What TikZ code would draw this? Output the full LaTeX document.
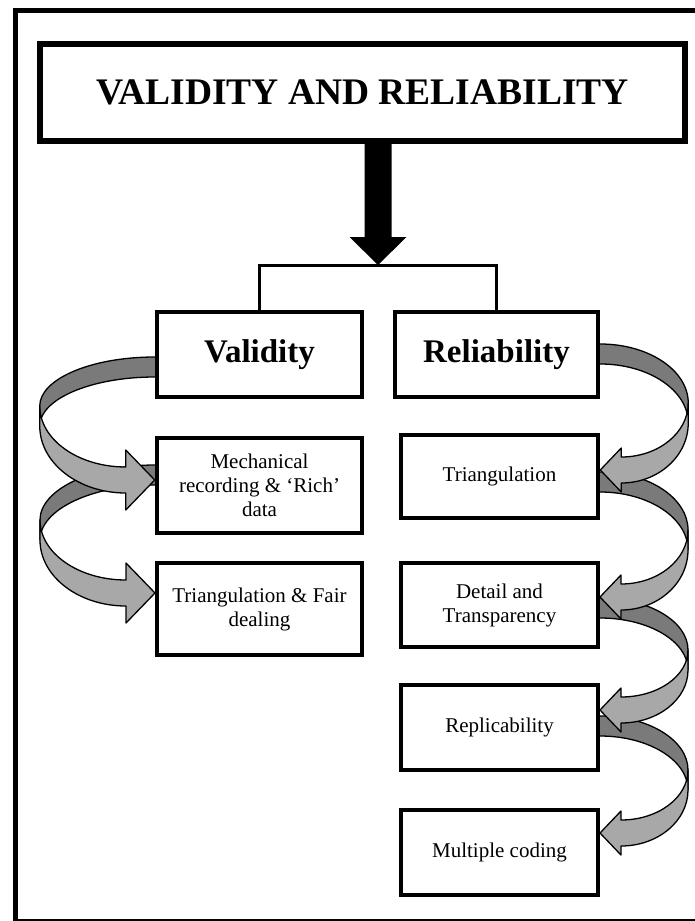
\documentclass[tikz,border=0pt]{standalone}
\usepackage{fontspec}
\setmainfont{Liberation Serif}
\usetikzlibrary{calc}
\pgfdeclarelayer{bg}
\pgfsetlayers{bg,main}
\definecolor{bandback}{gray}{0.48}
\definecolor{bandfront}{gray}{0.66}

\tikzset{
  box/.style={draw, fill=white, line width=4.5pt, align=center, inner sep=4pt},
  headbox/.style={box, font=\fontsize{33}{38}\selectfont\bfseries},
  subbox/.style={box, line width=4pt, font=\fontsize{21}{24}\selectfont},
  band/.style={draw=black, line width=1.3pt, line join=round},
}

% Curved ribbon arrow from one box side to the next box.
% #1 source node, #2 target node, #3 anchor (west/east), #4 direction (-1 left, 1 right)
% #5 band top, #6 fold top (both relative to source centre), #7 tip (relative to target centre)
% Uses \rD depth, \rH head length, \rW head half height, \rB band thickness.
\newcommand\bandarrow[7]{%
  \path (#1.#3); \pgfgetlastxy{\rbx}{\rby}%
  \path (#2.#3); \pgfgetlastxy{\rtx}{\rty}%
  \pgfmathsetmacro\rX{\rbx}%
  \pgfmathsetmacro\rS{#5-(\rby)}%
  \pgfmathsetmacro\rF{#6-(\rby)}%
  \pgfmathsetmacro\rT{#7-(\rty)}%
  \pgfmathsetmacro\rR{\rF-\rS}%
  \pgfmathsetmacro\rU{\rT-\rB/2-3}%
  \pgfmathsetmacro\rL{\rT+\rB/2+3}%
  \begin{scope}[shift={(\rX,0)}, xscale=#4]
    % back half of the ribbon
    \filldraw[band, fill=bandback]
      (-4,\rS) -- (0,\rS)
      .. controls ({0.552*\rD},\rS) and (\rD,{\rF-0.552*\rR}) .. (\rD,\rF)
      -- (\rD,{\rF+\rB})
      .. controls (\rD,{\rF+\rB-0.552*\rR}) and ({0.552*\rD},{\rS+\rB}) .. (0,{\rS+\rB})
      -- (-4,{\rS+\rB}) -- cycle;
    % front half with the arrow head
    \filldraw[band, fill=bandfront]
      (\rD,\rF)
      .. controls (\rD,{\rF+0.552*(\rU-\rF)}) and ({\rH+0.552*(\rD-\rH)},\rU) .. (\rH,\rU)
      -- (\rH,{\rT-\rW}) -- (0,\rT) -- (\rH,{\rT+\rW}) -- (\rH,\rL)
      .. controls ({\rH+0.552*(\rD-\rH)},\rL) and (\rD,{\rF+\rB+0.552*(\rL-\rF-\rB)}) .. (\rD,{\rF+\rB})
      -- cycle;
  \end{scope}%
}

\begin{document}
\begin{tikzpicture}[x=1pt, y=-1pt]
\useasboundingbox (0,0) rectangle (695,921);

% outer frame
\begin{scope}
  \clip (0,0) rectangle (695,921);
  \draw[line width=5pt] (15.5,10) rectangle (730,921.5);
\end{scope}

% boxes
\node[box, line width=6pt, minimum width=645pt, minimum height=97pt,
      font=\fontsize{37.5}{42}\selectfont\bfseries] (title) at (362.5,92.5) {VALIDITY AND RELIABILITY};

\node[headbox, minimum width=205pt, minimum height=85pt] (val) at (259.5,354.5) {Validity};
\node[headbox, minimum width=203pt, minimum height=85pt] (rel) at (496.5,354.5) {Reliability};

\node[subbox, minimum width=205pt, minimum height=95pt] (mech) at (259.5,485.5)
  {Mechanical\\recording \& ‘Rich’\\data};
\node[subbox, minimum width=205pt, minimum height=92pt] (tf) at (259.5,609)
  {Triangulation \& Fair\\dealing};

\node[subbox, minimum width=197pt, minimum height=83pt] (tri) at (499.5,476.5) {Triangulation};
\node[subbox, minimum width=197pt, minimum height=84pt] (det) at (499.5,605) {Detail and\\Transparency};
\node[subbox, minimum width=197pt, minimum height=85pt] (rep) at (499.5,727.5) {Replicability};
\node[subbox, minimum width=197pt, minimum height=85pt] (mul) at (499.5,852.5) {Multiple coding};

% main arrow and bracket
\coordinate (split) at (378,265);
\coordinate (headbase) at ($(split)+(0,-28)$);
\fill ($(title.south -| split)+(-13.5,0)$) -- ($(headbase)+(-13.5,0)$) -- ($(headbase)+(-28.5,0)$)
  -- (split) -- ($(headbase)+(28.5,0)$) -- ($(headbase)+(13.5,0)$)
  -- ($(title.south -| split)+(13.5,0)$) -- cycle;
\draw[line width=3pt] (val.north) |- (split) -| (rel.north);

% ribbon arrows
\begin{pgfonlayer}{bg}
  \def\rD{115}\def\rH{29}\def\rW{30}\def\rB{20}
  \bandarrow{mech}{tf}{west}{-1}{-20.5}{34.5}{-16}
  \bandarrow{val}{mech}{west}{-1}{2.5}{51.5}{-5.5}
  \def\rD{88}\def\rH{21}\def\rW{22}\def\rB{20}
  \bandarrow{rep}{mul}{east}{1}{-11.5}{42.5}{-19.5}
  \bandarrow{det}{rep}{east}{1}{-7}{45}{-17.5}
  \bandarrow{tri}{det}{east}{1}{-4.5}{53.5}{-8}
  \bandarrow{rel}{tri}{east}{1}{-10.5}{48.5}{-6.5}
\end{pgfonlayer}
\end{tikzpicture}
\end{document}
